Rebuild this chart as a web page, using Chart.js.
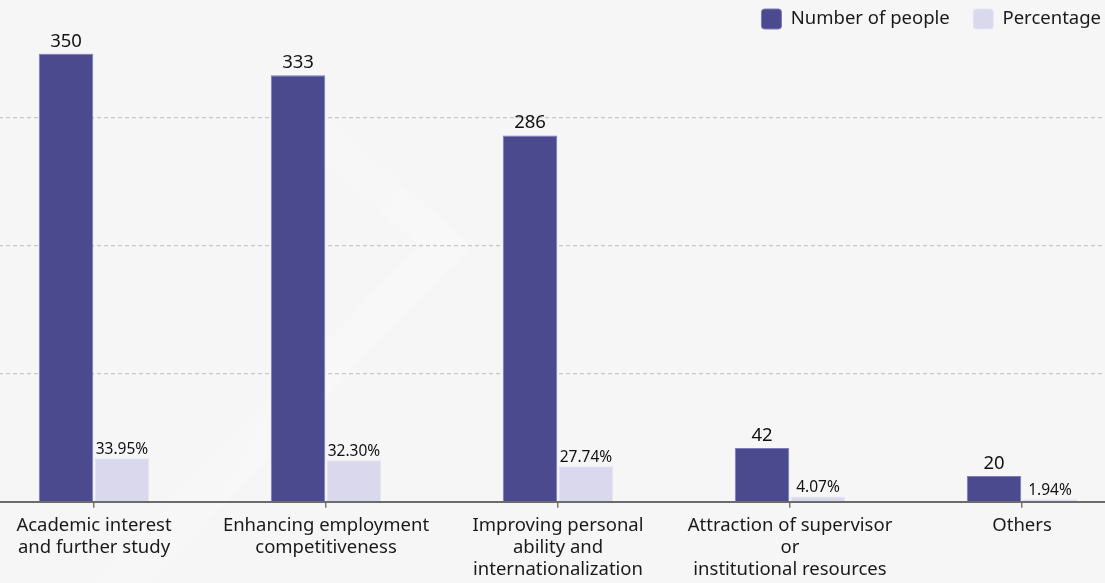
<!DOCTYPE html>
<html>
<head>
<meta charset="utf-8">
<script src="https://cdn.jsdelivr.net/npm/chart.js@4/dist/chart.umd.min.js"></script>
<style>
  html, body { margin: 0; padding: 0; background: #f6f6f6; overflow: hidden; }
  #wrap { position: relative; width: 1105px; height: 583px; overflow: hidden; }
  /* faint white chevron in the background */
  .chev {
    position: absolute; inset: 0;
    background: linear-gradient(120deg, rgba(255,255,255,0) 20%, rgba(255,255,255,0.5) 65%, rgba(255,255,255,0.15) 100%);
    clip-path: polygon(330px 118px, 470px 246px, 150px 583px, 90px 583px, 420px 246px, 300px 140px);
  }
  /* canvas is wider than the window so the five categories span 232px each */
  canvas { position: absolute; left: -22px; top: 0; }
</style>
</head>
<body>
<div id="wrap">
  <div class="chev"></div>
  <canvas id="chart" width="1160" height="583"></canvas>
</div>
<script>
/* ── data ── */
const categories = [
  ['Academic interest', 'and further study'],
  ['Enhancing employment', 'competitiveness'],
  ['Improving personal', 'ability and', 'internationalization'],
  ['Attraction of supervisor', 'or', 'institutional resources'],
  ['Others'],
];
const peopleCounts = [350, 333, 286, 42, 20];
const percentages  = [33.95, 32.30, 27.74, 4.07, 1.94];
const yTicks       = [0, 100, 200, 300];

const DARK  = '#4c4a8f';
const LIGHT = '#d9d8ec';
const SHIFT = 22;   // canvas offset to the left of the window

Chart.defaults.font.family = "'Noto Sans', sans-serif";
Chart.defaults.color = '#1a1a1a';

/* ── value labels above each bar ── */
const barLabels = {
  id: 'barLabels',
  afterDatasetsDraw(chart) {
    const { ctx } = chart;
    ctx.save();
    ctx.textAlign = 'center';
    ctx.textBaseline = 'alphabetic';
    ctx.fillStyle = '#111';
    chart.data.datasets.forEach((ds, di) => {
      const meta = chart.getDatasetMeta(di);
      ctx.font = di === 0 ? "18.5px 'Noto Sans'" : "15.5px 'Noto Sans'";
      meta.data.forEach((bar, i) => {
        const v = ds.data[i];
        const txt = di === 0 ? String(v) : v.toFixed(2) + '%';
        ctx.fillText(txt, bar.x, bar.y - (di === 0 ? 7 : 4));
      });
    });
    ctx.restore();
  },
};

/* ── legend placement: flush to the window's right edge, near the top ── */
const legendPlace = {
  id: 'legendPlace',
  afterLayout(chart) {
    const lg = chart.legend;
    const pad = lg.options.labels.padding;
    lg.right = 1101 + SHIFT + pad;
    lg.top = 9 - pad;
  },
};

new Chart(document.getElementById('chart'), {
  type: 'bar',
  data: {
    labels: categories,
    datasets: [
      {
        label: 'Number of people',
        data: peopleCounts,
        backgroundColor: DARK,
        borderColor: '#7d7bbb',
        borderWidth: 1,
        categoryPercentage: 0.482,
        barPercentage: 0.975,
      },
      {
        label: 'Percentage',
        data: percentages,
        backgroundColor: LIGHT,
        borderColor: '#e6e5f3',
        borderWidth: 1,
        categoryPercentage: 0.482,
        barPercentage: 0.975,
      },
    ],
  },
  options: {
    responsive: false,
    animation: false,
    layout: { padding: 0 },
    plugins: {
      legend: {
        position: 'top',
        align: 'end',
        labels: {
          boxWidth: 20,
          boxHeight: 20,
          padding: 23.5,
          useBorderRadius: true,
          borderRadius: 3,
          color: '#1a1a1a',
          font: { size: 18.5 },
        },
      },
      tooltip: { enabled: false },
    },
    scales: {
      x: {
        grid: {
          display: true,
          drawOnChartArea: false,
          offset: false,
          tickLength: 6,
          color: '#777',
          lineWidth: 1.5,
        },
        border: { display: true, color: '#6b6b6b', width: 2 },
        ticks: {
          padding: 7,
          maxRotation: 0,
          autoSkip: false,
          color: '#1a1a1a',
          font: { size: 18.5, lineHeight: 1.19 },
        },
        afterFit(scale) { scale.height = 81.3; },
      },
      y: {
        min: 0,
        max: 350,
        afterBuildTicks(scale) { scale.ticks = yTicks.map(v => ({ value: v })); },
        ticks: { display: false },
        border: { display: false, dash: [4, 3] },
        grid: {
          drawTicks: false,
          lineWidth: 1.2,
          color: ctx => (ctx.tick && ctx.tick.value === 0) ? 'rgba(0,0,0,0)' : '#c8c8c8',
        },
        afterFit(scale) { scale.width = 0; },
      },
    },
  },
  plugins: [barLabels, legendPlace],
});
</script>
</body>
</html>
